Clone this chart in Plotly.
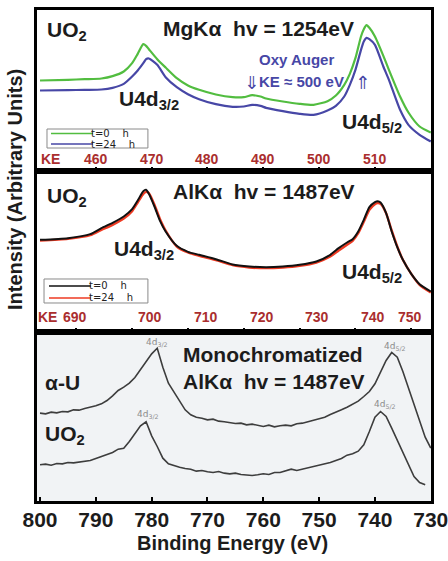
import plotly.graph_objects as go

# ---------------- data ----------------
# U 4d region, MgKa excitation (hv = 1254 eV), UO2 at t = 0 h and t = 24 h
be_mg = [800, 795, 792, 789, 787, 785, 783.5, 782.5, 781.5, 781, 780.5, 779, 777.5,
         775.5, 773.5, 771.5, 768.5, 765.5, 763.5, 762, 760.5, 759.5, 756.5, 753.5,
         751, 748.5, 747, 745.5, 744.5, 743.5, 742.5, 742, 741.5, 741, 740, 738.5,
         737.5, 735.5, 734, 732, 730]
mg_t0 = [273, 275, 277, 279, 286, 300, 325, 353, 382, 377, 367, 337, 312, 280, 258,
         245, 231, 223, 223, 229, 225, 219, 210, 203, 200, 211, 228, 260, 293, 340,
         405, 427, 439, 431, 405, 347, 305, 225, 177, 135, 117]
mg_t24 = [243, 244, 245, 246, 251, 263, 285, 303, 325, 337, 339, 320, 283, 253, 232,
          217, 202, 194, 195, 200, 197, 191, 181, 173, 170, 183, 197, 225, 260, 305,
          365, 390, 401, 397, 380, 315, 275, 185, 140, 110, 90]

# U 4d region, AlKa excitation (hv = 1487 eV)
be_al = [800, 795, 791, 789, 787, 785, 783.5, 782.5, 781.5, 781, 780.5, 779.5, 778.5,
         777.5, 775.5, 773.5, 771.5, 768.5, 765.5, 762.5, 759.5, 756.5, 753.5, 750.5,
         748, 746.5, 745, 744, 743, 742, 741, 740, 739.5, 739, 738, 737, 736, 735,
         733.5, 732, 730]
al_t0 = [278, 283, 295, 313, 329, 348, 370, 396, 424, 428, 416, 378, 335, 303, 260,
         242, 233, 220, 204, 198, 196, 198, 203, 213, 233, 253, 270, 280, 303, 338,
         376, 391, 394, 390, 358, 303, 256, 218, 176, 145, 123]
al_t24 = [276, 281, 292, 308, 323, 342, 364, 390, 416, 422, 418, 383, 340, 306, 258,
          240, 230, 217, 202, 195, 193, 195, 200, 210, 228, 246, 263, 275, 298, 332,
          368, 385, 388, 386, 358, 306, 258, 218, 176, 143, 120]

# Monochromatized AlKa, alpha-U and UO2 (1 eV steps)
be_alpha_u = list(range(800, 729, -1))
mono_alpha_u = [265, 263, 268, 266, 270, 269, 275, 274, 279, 282, 287, 293, 303, 317,
                333, 343, 355, 372, 395, 418, 443, 460, 403, 355, 329, 302, 275, 260,
                253, 250, 245, 247, 241, 239, 236, 234, 235, 230, 232, 228, 225, 229,
                224, 227, 229, 227, 233, 235, 239, 243, 247, 253, 261, 267, 275, 283,
                291, 301, 315, 330, 353, 390, 423, 447, 433, 390, 340, 290, 237, 193,
                160]
be_uo2 = list(range(800, 730, -1))
mono_uo2 = [110, 112, 109, 114, 113, 117, 116, 119, 121, 123, 129, 135, 143, 147, 157,
            160, 180, 203, 227, 239, 197, 165, 130, 113, 107, 103, 99, 97, 91, 93, 89,
            87, 90, 85, 83, 85, 81, 79, 78, 80, 83, 81, 87, 87, 91, 97, 93, 97, 100,
            105, 109, 112, 117, 123, 129, 139, 143, 151, 170, 210, 253, 270, 255, 220,
            185, 145, 115, 75, 57, 50]

# axis ticks
be_ticks = [800, 790, 780, 770, 760, 750, 740, 730]
ke_mg = [460, 470, 480, 490, 500, 510]          # KE = 1250 - BE
ke_al = [690, 700, 710, 720, 730, 740, 750]     # KE scale for AlKa panel

# ---------------- style ----------------
FONT = "Liberation Sans, Arial, sans-serif"
TXT = "#1c1c1c"
GREEN = "#52bd40"
BLUE = "#4747a6"
RED = "#ee3a22"
BLACK = "#111111"
KE_RED = "#aa2e2e"
GRAY = "#3d3d3d"

X_RANGE = [800.54, 729.96]
p3_dom = [0, 0.34318]
p2_dom = [0.34318, 0.67108]
p1_dom = [0.67108, 1]

fig = go.Figure()

# panel 1 (top): MgKa
fig.add_trace(go.Scatter(x=be_mg, y=mg_t0, mode="lines", line=dict(color=GREEN, width=2.2, shape="spline", smoothing=0.6),
                         xaxis="x3", yaxis="y3", name="t=0 h"))
fig.add_trace(go.Scatter(x=be_mg, y=mg_t24, mode="lines", line=dict(color=BLUE, width=2.2, shape="spline", smoothing=0.6),
                         xaxis="x3", yaxis="y3", name="t=24 h"))
# panel 2: AlKa
fig.add_trace(go.Scatter(x=be_al, y=al_t24, mode="lines", line=dict(color=RED, width=2.4, shape="spline", smoothing=0.6),
                         xaxis="x2", yaxis="y2", name="t=24 h"))
fig.add_trace(go.Scatter(x=be_al, y=al_t0, mode="lines", line=dict(color=BLACK, width=2.0, shape="spline", smoothing=0.6),
                         xaxis="x2", yaxis="y2", name="t=0 h"))
# panel 3: monochromatized
fig.add_trace(go.Scatter(x=be_alpha_u, y=mono_alpha_u, mode="lines", line=dict(color=GRAY, width=1.6),
                         xaxis="x", yaxis="y", name="α-U"))
fig.add_trace(go.Scatter(x=be_uo2, y=mono_uo2, mode="lines", line=dict(color=GRAY, width=1.6),
                         xaxis="x", yaxis="y", name="UO2"))

frame = dict(showline=True, mirror=True, linewidth=3, linecolor="black",
             showgrid=False, zeroline=False, automargin=False)
tickstyle = dict(ticks="inside", ticklen=4, tickwidth=1.5, tickcolor="black")

fig.update_layout(
    width=448, height=561,
    margin=dict(l=37, r=17, t=10, b=60, autoexpand=False),
    paper_bgcolor="white", plot_bgcolor="white",
    showlegend=False,
    font=dict(family=FONT, color=TXT),
    xaxis=dict(domain=[0, 1], anchor="y", range=X_RANGE, tickvals=be_ticks,
               ticktext=[str(v) for v in be_ticks], ticklabelstandoff=-2,
               ticklabeloverflow="allow",
               tickfont=dict(family=FONT, size=21, weight="bold", color=TXT),
               **tickstyle, **frame),
    xaxis2=dict(domain=[0, 1], anchor="y2", range=X_RANGE, matches="x",
                tickvals=[1483.5 - k for k in ke_al], showticklabels=False,
                **tickstyle, **frame),
    xaxis3=dict(domain=[0, 1], anchor="y3", range=X_RANGE, matches="x",
                tickvals=[1250 - k for k in ke_mg], showticklabels=False,
                **tickstyle, **frame),
    yaxis=dict(domain=p3_dom, anchor="x", range=[1.5, 507], showticklabels=False, ticks="", **frame),
    yaxis2=dict(domain=p2_dom, anchor="x2", range=[0, 483], showticklabels=False, ticks="", **frame),
    yaxis3=dict(domain=p1_dom, anchor="x3", range=[0, 484.5], showticklabels=False, ticks="", **frame),
)

shapes = []
# scanned-paper background of the monochromatized panel
shapes.append(dict(type="rect", xref="x domain", yref="y domain", x0=0, x1=1, y0=0, y1=1,
                   fillcolor="#f1f3f5", line=dict(width=0), layer="below"))

annotations = []


def label(text, x, y, xref, yref, size=21, color=TXT, xanchor="center", bold=True, fam=FONT, **kw):
    annotations.append(dict(text=text, x=x, y=y, xref=xref, yref=yref, showarrow=False,
                            xanchor=xanchor, yanchor="middle",
                            font=dict(family=fam, size=size, color=color,
                                      weight="bold" if bold else "normal"), **kw))


def legend_box(xref, yref, x0, x1, y0, y1, lx0, lx1, rows):
    shapes.append(dict(type="rect", xref=xref, yref=yref, x0=x0, x1=x1, y0=y0, y1=y1,
                       line=dict(color="#8a8a8a", width=1), fillcolor="white"))
    for yy, col, name in rows:
        shapes.append(dict(type="line", xref=xref, yref=yref, x0=lx0, x1=lx1, y0=yy, y1=yy,
                           line=dict(color=col, width=1.6)))
        label(name, lx1 + 0.7, yy, xref, yref, size=10, xanchor="left", bold=False,
              fam="DejaVu Sans, sans-serif", color="#222")


# ---- panel 1 texts
label("UO<sub>2</sub>", 799.1, 421.5, "x3", "y3", xanchor="left")
label("MgKα  hv = 1254eV", 760.8, 430.5, "x3", "y3")
label("U4d<sub>3/2</sub>", 786.2, 214.5, "x3", "y3", xanchor="left")
label("U4d<sub>5/2</sub>", 746.3, 145.5, "x3", "y3", xanchor="left")
label("Oxy Auger", 754.0, 337.5, "x3", "y3", size=15, color=BLUE)
label("⇓", 762.2, 267, "x3", "y3", size=18, color=BLUE, bold=False, fam="DejaVu Sans")
label("KE ≈ 500 eV", 761.2, 269.4, "x3", "y3", size=15, color=BLUE, xanchor="left")
label("⇑", 742.2, 268.5, "x3", "y3", size=18, color=BLUE, bold=False, fam="DejaVu Sans")
label("KE", 798.1, 38, "x3", "y3", size=14, color=KE_RED)
for k in ke_mg:
    label(str(k), 1250 - k, 38, "x3", "y3", size=14, color=KE_RED)
legend_box("x3", "y3", 798.75, 780.67, 70.5, 127.5, 798.03, 790.51,
           [(114, GREEN, "t=0    h"), (82.5, BLUE, "t=24    h")])

# ---- panel 2 texts
label("UO<sub>2</sub>", 799.1, 406.5, "x2", "y2", xanchor="left")
label("AlKα  hv = 1487eV", 759.9, 421.5, "x2", "y2")
label("U4d<sub>3/2</sub>", 787.1, 247.5, "x2", "y2", xanchor="left")
label("U4d<sub>5/2</sub>", 746.3, 178.5, "x2", "y2", xanchor="left")
label("KE", 798.7, 47, "x2", "y2", size=14, color=KE_RED)
ke_al_shift = [-19, 0, 0, 0, 0, 0, -19]
for k, sh in zip(ke_al, ke_al_shift):
    label(str(k), 1480.3 - k, 47, "x2", "y2", size=14, color=KE_RED, xshift=sh)
legend_box("x2", "y2", 799.28, 780.67, 88.5, 160.5, 798.39, 790.87,
           [(139.5, BLACK, "t=0    h"), (103.5, RED, "t=24    h")])

# ---- panel 3 texts
label("α-U", 799.46, 355.5, "x", "y", xanchor="left")
label("UO<sub>2</sub>", 799.46, 199.5, "x", "y", xanchor="left")
label("Monochromatized", 758.2, 439.5, "x", "y")
label("AlKα  hv = 1487eV", 758.1, 358.5, "x", "y")
for xx, yy, t in [(779.0, 475.5, "4d<sub>3/2</sub>"), (736.4, 463.5, "4d<sub>5/2</sub>"),
                  (780.7, 259.5, "4d<sub>3/2</sub>"), (738.2, 289.5, "4d<sub>5/2</sub>")]:
    label(t, xx, yy, "x", "y", size=9, color="#8c8c8c", bold=False, fam="DejaVu Sans")

# ---- axis titles
label("Intensity (Arbitrary Units)", -0.056, 0.6354, "paper", "paper", size=20, textangle=-90)
label("Binding Energy (eV)", 0.496, -0.0865, "paper", "paper", size=20)

fig.update_layout(shapes=shapes, annotations=annotations)
fig.write_html("out.html")
